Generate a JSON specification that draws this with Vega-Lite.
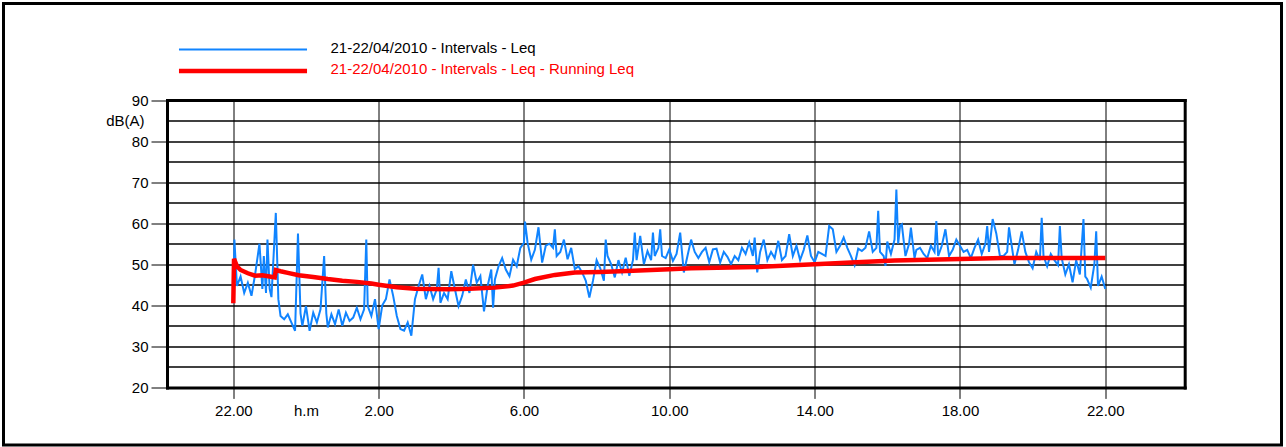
{
"$schema": "https://vega.github.io/schema/vega-lite/v6.json",
"width": 1278, "height": 441.5,
"autosize": {"type": "none"},
"padding": {"left": 3.5, "top": 3.5, "right": 4.5, "bottom": 2},
"background": "white",
"config": {
 "view": {"stroke": "black", "strokeWidth": 3},
 "font": "Liberation Sans",
 "axis": {"labelFont": "Liberation Sans", "labelFontSize": 15, "labelColor": "black"},
 "legend": {"labelFont": "Liberation Sans", "labelFontSize": 15}
},
"datasets": {
"leq": [
{"t":0,"v":40.5},{"t":0.03,"v":56},{"t":0.1,"v":44.7},{"t":0.2,"v":47},{"t":0.3,"v":43},{"t":0.4,"v":45.5},{"t":0.5,"v":42.3},{"t":0.6,"v":47.5},{"t":0.72,"v":55},{"t":0.8,"v":44},{"t":0.84,"v":52},{"t":0.9,"v":43},{"t":0.94,"v":56},{"t":1.0,"v":44},{"t":1.05,"v":42},{"t":1.17,"v":62.5},{"t":1.24,"v":41.5},{"t":1.3,"v":37.4},{"t":1.4,"v":36.6},{"t":1.5,"v":37.8},{"t":1.6,"v":35.8},{"t":1.7,"v":33.8},{"t":1.78,"v":57.5},{"t":1.85,"v":38},{"t":1.9,"v":35},{"t":2.0,"v":39.8},{"t":2.1,"v":33.8},{"t":2.2,"v":38.2},{"t":2.3,"v":35.8},{"t":2.4,"v":39},{"t":2.5,"v":52},{"t":2.56,"v":38},{"t":2.6,"v":34.6},{"t":2.7,"v":37.8},{"t":2.8,"v":35.4},{"t":2.9,"v":39},{"t":3.0,"v":35},{"t":3.1,"v":38.2},{"t":3.2,"v":36.2},{"t":3.3,"v":37},{"t":3.4,"v":39.4},{"t":3.5,"v":36.6},{"t":3.6,"v":39},{"t":3.66,"v":56},{"t":3.7,"v":39.8},{"t":3.8,"v":37.4},{"t":3.9,"v":41.5},{"t":4.0,"v":34.2},{"t":4.1,"v":40},{"t":4.2,"v":41.5},{"t":4.3,"v":46.3},{"t":4.4,"v":42.3},{"t":4.5,"v":37.4},{"t":4.6,"v":34.2},{"t":4.7,"v":33.8},{"t":4.8,"v":35.8},{"t":4.9,"v":32.6},{"t":5.0,"v":41.5},{"t":5.1,"v":44.7},{"t":5.2,"v":47.5},{"t":5.3,"v":41.5},{"t":5.4,"v":44.7},{"t":5.5,"v":41.5},{"t":5.6,"v":43.9},{"t":5.65,"v":49.1},{"t":5.7,"v":40.6},{"t":5.8,"v":43},{"t":5.9,"v":41.5},{"t":6.0,"v":48.3},{"t":6.1,"v":43.9},{"t":6.2,"v":39.8},{"t":6.3,"v":42.3},{"t":6.4,"v":46.3},{"t":6.5,"v":43},{"t":6.6,"v":49.9},{"t":6.7,"v":45.5},{"t":6.8,"v":47.1},{"t":6.9,"v":38.5},{"t":7.0,"v":44.7},{"t":7.1,"v":48.7},{"t":7.15,"v":39.4},{"t":7.2,"v":46.3},{"t":7.3,"v":49.5},{"t":7.4,"v":51.5},{"t":7.5,"v":48.7},{"t":7.6,"v":47.1},{"t":7.7,"v":51.1},{"t":7.8,"v":49.5},{"t":7.9,"v":54},{"t":8.0,"v":55.2},{"t":8.03,"v":60.4},{"t":8.1,"v":55.2},{"t":8.2,"v":51.1},{"t":8.3,"v":53.5},{"t":8.4,"v":59},{"t":8.5,"v":50.4},{"t":8.6,"v":54.5},{"t":8.7,"v":55},{"t":8.8,"v":54},{"t":8.85,"v":58.5},{"t":8.9,"v":52},{"t":9.0,"v":53},{"t":9.1,"v":56},{"t":9.2,"v":51.2},{"t":9.3,"v":54},{"t":9.4,"v":48.8},{"t":9.5,"v":49.5},{"t":9.6,"v":48},{"t":9.7,"v":46},{"t":9.8,"v":41.9},{"t":9.9,"v":46},{"t":10.0,"v":51},{"t":10.1,"v":49},{"t":10.2,"v":46},{"t":10.25,"v":56},{"t":10.3,"v":52},{"t":10.4,"v":50},{"t":10.5,"v":46.8},{"t":10.6,"v":51},{"t":10.7,"v":48},{"t":10.8,"v":51.6},{"t":10.9,"v":47.2},{"t":11.0,"v":51},{"t":11.05,"v":57.7},{"t":11.1,"v":51},{"t":11.2,"v":56.9},{"t":11.3,"v":50},{"t":11.4,"v":53.2},{"t":11.5,"v":51},{"t":11.55,"v":57.7},{"t":11.6,"v":52},{"t":11.7,"v":54},{"t":11.75,"v":58.5},{"t":11.8,"v":52},{"t":11.9,"v":51.5},{"t":12.0,"v":53.6},{"t":12.1,"v":50.8},{"t":12.2,"v":52.5},{"t":12.3,"v":57.7},{"t":12.4,"v":48},{"t":12.5,"v":52},{"t":12.6,"v":56},{"t":12.7,"v":53},{"t":12.8,"v":51.5},{"t":12.9,"v":53},{"t":13.0,"v":54},{"t":13.1,"v":50.5},{"t":13.2,"v":53.6},{"t":13.3,"v":53.8},{"t":13.4,"v":50.4},{"t":13.5,"v":53},{"t":13.6,"v":51.8},{"t":13.7,"v":50},{"t":13.8,"v":52},{"t":13.9,"v":51},{"t":14.0,"v":54},{"t":14.1,"v":52.5},{"t":14.2,"v":55.3},{"t":14.3,"v":52},{"t":14.35,"v":56.5},{"t":14.42,"v":48},{"t":14.5,"v":53},{"t":14.6,"v":56},{"t":14.7,"v":51},{"t":14.8,"v":53},{"t":14.9,"v":51.5},{"t":15.0,"v":55.7},{"t":15.1,"v":51},{"t":15.2,"v":52},{"t":15.3,"v":57.3},{"t":15.4,"v":52},{"t":15.5,"v":54.5},{"t":15.6,"v":51},{"t":15.7,"v":53.5},{"t":15.8,"v":57},{"t":15.9,"v":52},{"t":16.0,"v":50.5},{"t":16.1,"v":53},{"t":16.2,"v":52.5},{"t":16.3,"v":52},{"t":16.4,"v":59.3},{"t":16.5,"v":58.5},{"t":16.6,"v":53},{"t":16.7,"v":54.5},{"t":16.8,"v":56.5},{"t":16.9,"v":54},{"t":17.0,"v":52},{"t":17.1,"v":49.8},{"t":17.2,"v":53.8},{"t":17.3,"v":53.2},{"t":17.4,"v":54},{"t":17.5,"v":58},{"t":17.6,"v":53},{"t":17.7,"v":54},{"t":17.75,"v":63},{"t":17.8,"v":53},{"t":17.9,"v":52},{"t":17.95,"v":49.6},{"t":18.0,"v":55.5},{"t":18.1,"v":52.5},{"t":18.2,"v":56},{"t":18.25,"v":68.2},{"t":18.3,"v":55},{"t":18.35,"v":59.3},{"t":18.4,"v":59.7},{"t":18.5,"v":52},{"t":18.6,"v":55},{"t":18.65,"v":58.9},{"t":18.75,"v":51.5},{"t":18.8,"v":53.5},{"t":18.9,"v":54},{"t":19.0,"v":52.5},{"t":19.1,"v":51.5},{"t":19.2,"v":54.5},{"t":19.3,"v":53},{"t":19.35,"v":60.5},{"t":19.4,"v":52},{"t":19.5,"v":54.5},{"t":19.6,"v":58.5},{"t":19.7,"v":52},{"t":19.8,"v":53.5},{"t":19.9,"v":56},{"t":20.0,"v":54.5},{"t":20.1,"v":53},{"t":20.2,"v":53.5},{"t":20.3,"v":51.5},{"t":20.4,"v":54},{"t":20.5,"v":56},{"t":20.6,"v":52.5},{"t":20.7,"v":55},{"t":20.75,"v":59.3},{"t":20.8,"v":53},{"t":20.9,"v":61},{"t":21.0,"v":57.5},{"t":21.1,"v":52},{"t":21.2,"v":52},{"t":21.3,"v":53},{"t":21.35,"v":59},{"t":21.4,"v":56},{"t":21.5,"v":50},{"t":21.6,"v":53.5},{"t":21.7,"v":58},{"t":21.8,"v":53},{"t":21.9,"v":50.5},{"t":22.0,"v":49},{"t":22.1,"v":53},{"t":22.2,"v":51},{"t":22.25,"v":61.3},{"t":22.3,"v":52},{"t":22.4,"v":49.5},{"t":22.5,"v":52.5},{"t":22.6,"v":51},{"t":22.7,"v":49.8},{"t":22.75,"v":59.3},{"t":22.8,"v":51.5},{"t":22.9,"v":47.5},{"t":23.0,"v":50},{"t":23.1,"v":45.6},{"t":23.2,"v":51},{"t":23.3,"v":47.5},{"t":23.4,"v":61},{"t":23.45,"v":47},{"t":23.5,"v":46.4},{"t":23.6,"v":44.3},{"t":23.7,"v":50},{"t":23.75,"v":58},{"t":23.8,"v":44.7},{"t":23.9,"v":47},{"t":24.0,"v":44}
],
"run": [
{"t":0,"v":40.5},{"t":0.02,"v":51.3},{"t":0.1,"v":49.5},{"t":0.2,"v":48.6},{"t":0.4,"v":47.8},{"t":0.6,"v":47.2},{"t":0.8,"v":47.3},{"t":1.0,"v":47.0},{"t":1.14,"v":46.8},{"t":1.17,"v":48.6},{"t":1.3,"v":48.3},{"t":1.5,"v":47.9},{"t":1.8,"v":47.3},{"t":2.2,"v":46.9},{"t":2.6,"v":46.4},{"t":3.0,"v":46.0},{"t":3.4,"v":45.7},{"t":3.8,"v":45.3},{"t":4.0,"v":45.0},{"t":4.5,"v":44.4},{"t":5.0,"v":44.0},{"t":5.9,"v":43.9},{"t":6.5,"v":44.0},{"t":7.2,"v":44.3},{"t":7.7,"v":44.8},{"t":8.0,"v":45.5},{"t":8.3,"v":46.4},{"t":8.85,"v":47.4},{"t":9.4,"v":48.0},{"t":10.1,"v":48.1},{"t":11.0,"v":48.4},{"t":12.0,"v":48.8},{"t":12.6,"v":49.0},{"t":14.4,"v":49.3},{"t":16.0,"v":50.0},{"t":17.0,"v":50.4},{"t":18.2,"v":50.9},{"t":20.0,"v":51.3},{"t":21.2,"v":51.5},{"t":24.0,"v":51.5}
]
},
"layer": [
{
 "data": {"name": "leq"},
 "mark": {"type": "line", "strokeWidth": 2},
 "encoding": {
  "x": {"field": "t", "type": "quantitative",
   "scale": {"domain": [-1.825, 26.186], "range": [163.5, 1181.2], "nice": false, "zero": false},
   "axis": {"orient": "bottom", "offset": -57.6, "title": null,
    "values": [0, 2, 4, 8, 12, 16, 20, 24],
    "labelExpr": "datum.value == 2 ? 'h.m' : ((datum.value + 22) % 24) + '.00'",
    "domain": true, "domainColor": "black", "domainWidth": 3, "domainCap": "square",
    "ticks": true, "tickSize": 11, "tickColor": "black", "tickWidth": 1,
    "tickOpacity": {"condition": {"test": "datum.value == 2", "value": 0}, "value": 1},
    "grid": false,
    "labelPadding": 5, "labelDx": -3, "labelFlush": false, "labelOverlap": false, "labelFontSize": 15}},
  "y": {"field": "v", "type": "quantitative",
   "scale": {"domain": [20, 90], "range": [383.9, 96.5], "nice": false, "zero": false},
   "axis": {"orient": "left", "offset": -163.5, "title": null,
    "values": [20, 25, 30, 35, 40, 45, 50, 55, 60, 65, 70, 75, 80, 85, 90],
    "labelExpr": "datum.value == 85 ? 'dB(A)' : (datum.value % 10 == 0 ? datum.label : '')",
    "domain": true, "domainColor": "black", "domainWidth": 3, "domainCap": "square",
    "ticks": true, "tickSize": 16, "tickColor": "black", "tickWidth": 1,
    "tickOpacity": {"condition": {"test": "datum.value % 10 != 0", "value": 0}, "value": 1},
    "grid": true, "gridColor": "black", "gridWidth": 1.5,
    "labelPadding": {"condition": {"test": "datum.value == 85", "value": 7}, "value": 3},
    "labelFlush": false, "labelOverlap": false, "labelBaseline": "middle", "labelFontSize": 15}},
  "color": {"datum": "21-22/04/2010 - Intervals - Leq",
   "scale": {"domain": ["21-22/04/2010 - Intervals - Leq", "21-22/04/2010 - Intervals - Leq - Running Leq"], "range": ["#1084ff", "#ff0000"]},
   "legend": {"orient": "none", "legendX": 232, "legendY": 38.5, "title": null,
    "symbolType": "M-10,0H10", "symbolSize": 164, "symbolStrokeWidth": 2,
    "labelOffset": 80, "labelLimit": 500, "rowPadding": 5.5, "labelFontSize": 15,
    "encode": {
     "symbols": {"update": {"strokeWidth": {"signal": "datum.value == '21-22/04/2010 - Intervals - Leq' ? 1.8 : 4.5"}}},
     "labels": {"update": {"dy": {"value": -2}, "fill": {"signal": "datum.value == '21-22/04/2010 - Intervals - Leq' ? 'black' : '#ff0000'"}}}
    }}}
 }
},
{
 "data": {"name": "run"},
 "mark": {"type": "line", "strokeWidth": 4.5},
 "encoding": {
  "x": {"field": "t", "type": "quantitative",
   "scale": {"domain": [-1.825, 26.186], "range": [163.5, 1181.2], "nice": false, "zero": false},
   "axis": {"orient": "top", "offset": -96.5, "title": null, "domain": true, "domainColor": "black", "domainWidth": 3, "domainCap": "square", "ticks": false, "labels": false,
    "values": [0, 4, 8, 12, 16, 20, 24],
    "grid": true, "gridColor": "black", "gridWidth": 1}},
  "y": {"field": "v", "type": "quantitative",
   "scale": {"domain": [20, 90], "range": [383.9, 96.5], "nice": false, "zero": false},
   "axis": {"orient": "right", "offset": -96.8, "title": null, "domain": true, "domainColor": "black", "domainWidth": 3, "domainCap": "square", "ticks": false, "labels": false, "grid": false}},
  "color": {"datum": "21-22/04/2010 - Intervals - Leq - Running Leq"}
 }
}
],
"resolve": {"axis": {"x": "independent", "y": "independent"}}
}
